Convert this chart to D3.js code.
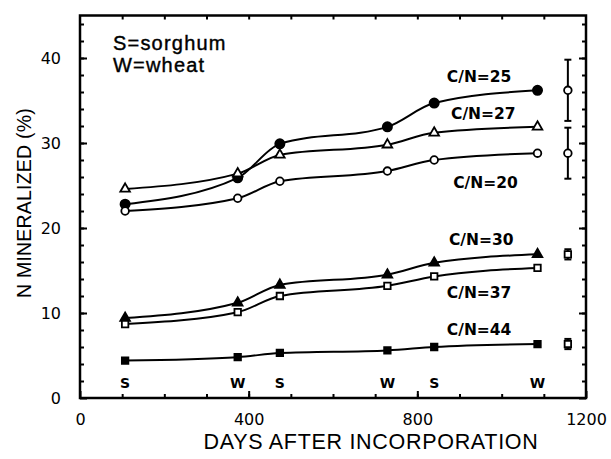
<!DOCTYPE html>
<html>
<head>
<meta charset="utf-8">
<script src="https://cdn.jsdelivr.net/npm/d3@7"></script>
<style>
    body { margin: 0; background: #fff; }
    text { fill: #000; }
</style>
</head>
<body>
<svg id="chart" width="611" height="459"></svg>
<script>
// sampling days and the crop that was growing at each one
const days = [107, 374, 474, 729, 840, 1085];
const crops = ['S', 'W', 'S', 'W', 'S', 'W'];

// N mineralized (%) per residue C/N ratio
const cn25 = [22.8, 25.9, 29.9, 31.9, 34.7, 36.2];
const cn27 = [24.6, 26.4, 28.6, 29.8, 31.2, 31.9];
const cn20 = [22.0, 23.5, 25.5, 26.7, 28.0, 28.8];
const cn30 = [9.4, 11.2, 13.3, 14.5, 15.9, 16.9];
const cn37 = [8.7, 10.1, 12.0, 13.2, 14.3, 15.3];
const cn44 = [4.4, 4.8, 5.3, 5.6, 6.0, 6.35];
const seriesNames = ['C/N=25', 'C/N=27', 'C/N=20', 'C/N=30', 'C/N=37', 'C/N=44'];
const labelDays = [870, 880, 885, 875, 870, 870];
const labelValues = [37.8, 33.5, 25.4, 18.6, 12.4, 8.1];

// LSD bars drawn to the right of the last sampling
const errDay = 1157;
const errMeans = [36.2, 28.8, 16.9, 6.35];
const errHalf = [3.6, 3.0, 0.6, 0.6];

const xTicks = [0, 400, 800, 1200];
const yTicks = [0, 10, 20, 30, 40];

const seriesValues = [cn25, cn27, cn20, cn30, cn37, cn44];
const markers = ['circle', 'triangle', 'circle', 'triangle', 'square', 'square'];
const filled = [true, false, false, true, false, true];
const errMarkers = ['circle', 'circle', 'square', 'square'];

const svg = d3.select('#chart');
const x = d3.scaleLinear().domain([0, 1200]).range([80, 586]);
const y = d3.scaleLinear().domain([0, 45]).range([398, 15.5]);

const axisFont = 'DejaVu Sans, sans-serif';
const titleFont = 'Liberation Sans, Arial, sans-serif';

// frame
svg.append('rect')
    .attr('x', x(0)).attr('y', y(45))
    .attr('width', x(1200) - x(0)).attr('height', y(0) - y(45))
    .attr('fill', 'none').attr('stroke', '#000').attr('stroke-width', 2.5);

function ticks(g) {
    g.select('.domain').remove();
    g.selectAll('line').attr('stroke', '#000').attr('stroke-width', 2);
}

// minor ticks, inward on all four sides
svg.append('g').attr('transform', `translate(0,${y(0)})`)
    .call(d3.axisBottom(x).tickValues(d3.range(100, 1200, 100)).tickSize(-4).tickFormat(''))
    .call(ticks);
svg.append('g').attr('transform', `translate(0,${y(45)})`)
    .call(d3.axisTop(x).tickValues(d3.range(100, 1200, 100)).tickSize(-4).tickFormat(''))
    .call(ticks);
svg.append('g').attr('transform', `translate(${x(0)},0)`)
    .call(d3.axisLeft(y).tickValues(d3.range(2, 45, 2)).tickSize(-4).tickFormat(''))
    .call(ticks);
svg.append('g').attr('transform', `translate(${x(1200)},0)`)
    .call(d3.axisRight(y).tickValues(d3.range(2, 45, 2)).tickSize(-4).tickFormat(''))
    .call(ticks);

// major ticks with labels
const xAxis = svg.append('g').attr('transform', `translate(0,${y(0)})`)
    .call(d3.axisBottom(x).tickValues(xTicks).tickSize(-7).tickPadding(16).tickFormat(d3.format('d')))
    .call(ticks);
xAxis.selectAll('text').attr('font-family', axisFont).attr('font-size', 16).attr('fill', '#000');

const yAxis = svg.append('g').attr('transform', `translate(${x(0)},0)`)
    .call(d3.axisLeft(y).tickValues(yTicks).tickSize(-7).tickPadding(19))
    .call(ticks);
yAxis.selectAll('text').attr('font-family', axisFont).attr('font-size', 16).attr('fill', '#000');

svg.append('g').attr('transform', `translate(${x(1200)},0)`)
    .call(d3.axisRight(y).tickValues(yTicks).tickSize(-7).tickFormat(''))
    .call(ticks);

// axis titles
svg.append('text')
    .attr('x', 371).attr('y', 449)
    .attr('text-anchor', 'middle')
    .attr('font-family', titleFont)
    .attr('font-size', 21.5).attr('letter-spacing', 0.7)
    .text('DAYS AFTER INCORPORATION');

svg.append('text')
    .attr('transform', 'translate(31,203) rotate(-90)')
    .attr('text-anchor', 'middle')
    .attr('font-family', titleFont)
    .attr('font-size', 19.5).attr('letter-spacing', 0.2)
    .text('N MINERALIZED (%)');

// crop legend
const legend = svg.append('g')
    .attr('font-family', titleFont).attr('font-size', 20).attr('letter-spacing', 1.2)
    .attr('stroke', '#000').attr('stroke-width', 0.4);
legend.append('text').attr('x', 113).attr('y', 50).text('S=sorghum');
legend.append('text').attr('x', 113).attr('y', 72).text('W=wheat');

// crop letters under each sampling
svg.append('g').selectAll('text')
    .data(days)
    .join('text')
    .attr('x', d => x(d)).attr('y', 388)
    .attr('text-anchor', 'middle')
    .attr('font-family', axisFont).attr('font-weight', 'bold').attr('font-size', 14)
    .text((d, i) => crops[i]);

const line = d3.line()
    .x((d, i) => x(days[i]))
    .y(d => y(d))
    .curve(d3.curveMonotoneX);

function drawMarker(g, kind, cx, cy, fill) {
    let m;
    if (kind === 'circle') {
        m = g.append('circle').attr('cx', cx).attr('cy', cy).attr('r', fill ? 4.6 : 3.8);
    } else {
        const sym = kind === 'triangle' ? d3.symbolTriangle : d3.symbolSquare;
        m = g.append('path')
            .attr('transform', `translate(${cx},${cy})`)
            .attr('d', d3.symbol(sym).size(kind === 'triangle' ? 40 : 42)());
    }
    m.attr('fill', fill ? '#000' : '#fff').attr('stroke', '#000').attr('stroke-width', 1.8);
}

seriesValues.forEach((vals, s) => {
    const g = svg.append('g');
    g.append('path')
        .datum(vals)
        .attr('d', line)
        .attr('fill', 'none')
        .attr('stroke', '#000')
        .attr('stroke-width', 2);
    vals.forEach((v, i) => drawMarker(g, markers[s], x(days[i]), y(v), filled[s]));
    g.append('text')
        .attr('x', x(labelDays[s])).attr('y', y(labelValues[s]))
        .attr('dy', '0.36em')
        .attr('font-family', axisFont).attr('font-weight', 'bold').attr('font-size', 15.5)
        .text(seriesNames[s]);
});

// error bars
errMeans.forEach((m, i) => {
    const g = svg.append('g').attr('stroke', '#000').attr('stroke-width', 2);
    const cx = x(errDay);
    g.append('line').attr('x1', cx).attr('x2', cx).attr('y1', y(m - errHalf[i])).attr('y2', y(m + errHalf[i]));
    [m - errHalf[i], m + errHalf[i]].forEach(v => {
        g.append('line').attr('x1', cx - 3.5).attr('x2', cx + 3.5).attr('y1', y(v)).attr('y2', y(v));
    });
    drawMarker(g, errMarkers[i], cx, y(m), false);
});
</script>
</body>
</html>
